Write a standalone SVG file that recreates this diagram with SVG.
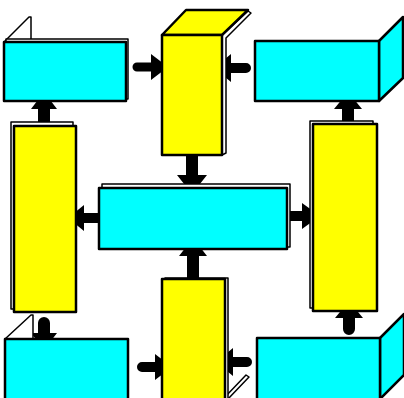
<svg xmlns="http://www.w3.org/2000/svg" width="404" height="398" viewBox="0 0 404 398">
  <style>
    .cy { fill: #00ffff; stroke: #000; stroke-width: 2.5; stroke-linejoin: round; }
    .ye { fill: #ffff00; stroke: #000; stroke-width: 2.5; stroke-linejoin: round; }
    .bk { fill: #ffffff; stroke: #000; stroke-width: 1.5; stroke-linejoin: round; }
    .ar { fill: #000; stroke: none; }
  </style>
  <rect width="404" height="398" fill="#ffffff"/>

  <!-- connectors: fat block arrows, heads tucked under the target box -->
  <g id="connectors">
    <path class="ar" d="M137,62.5 H151 V54 L168,67 L151,80 V71.5 H137 A4.5,4.5 0 0 1 137,62.5 Z"/>
    <path class="ar" d="M246,63 H231 V54 L214,68 L231,82 V73 H246 A5,5 0 0 0 246,63 Z"/>
    <path class="ar" d="M186,150 H198 V175 H207 L192,194 L177,175 H186 Z"/>
    <path class="ar" d="M104,213 H84 V205 L68,218 L84,231 V223 H104 Z"/>
    <path class="ar" d="M283,211 H302 V203 L320,216 L302,229 V221 H283 Z"/>
    <path class="ar" d="M187,284 V256 H179 L193,238 L207,256 H199 V284 Z"/>
    <path class="ar" d="M38,130 V109 H31 L44,92 L57,109 H50 V130 Z"/>
    <path class="ar" d="M38,323 A6,6 0 0 1 50,323 V333 H57 L44,350 L31,333 H38 Z"/>
    <path class="ar" d="M342,128 V109 H334 L348,92 L362,109 H354 V128 Z"/>
    <path class="ar" d="M343,318 H335 L349,301 L363,318 H355 V329 A6,6 0 0 1 343,329 Z"/>
    <path class="ar" d="M142,362 H155 V354 L172,367 L155,380 V372 H142 A5,5 0 0 1 142,362 Z"/>
    <path class="ar" d="M247,357 H233 V348 L216,362 L233,376 V367 H247 A5,5 0 0 0 247,357 Z"/>
  </g>

  <!-- top-left cyan block with its back flap -->
  <g id="box-top-left">
    <polygon class="bk" points="5,41 29,17 31,17 31,41"/>
    <rect class="bk" x="6" y="39" width="122" height="60"/>
    <rect class="cy" x="4" y="42" width="122" height="59"/>
  </g>

  <!-- top yellow block, seen from above -->
  <g id="box-top-center">
    <polygon class="bk" points="222,35 248,11 251,13 226,38 226,153 222,155"/>
    <polygon class="ye" points="162,35 186,10 248,10 222,35"/>
    <rect class="ye" x="162" y="35" width="60" height="120"/>
  </g>

  <!-- top-right cyan block with its side face -->
  <g id="box-top-right">
    <polygon class="cy" points="379,41 403,17 403,78 379,101"/>
    <rect class="cy" x="255" y="41" width="124" height="60"/>
  </g>

  <!-- left yellow column -->
  <g id="box-left">
    <rect class="bk" x="11" y="122" width="62" height="187"/>
    <rect class="ye" x="14" y="126" width="62" height="186"/>
  </g>

  <!-- central cyan block -->
  <g id="box-center">
    <rect class="bk" x="102" y="184" width="188" height="63"/>
    <rect class="cy" x="99" y="188" width="188" height="61"/>
  </g>

  <!-- right yellow column -->
  <g id="box-right">
    <rect class="bk" x="310" y="121" width="63" height="187"/>
    <rect class="ye" x="313" y="124" width="64" height="187"/>
  </g>

  <!-- bottom-left cyan block with its back flap -->
  <g id="box-bottom-left">
    <polygon class="bk" points="5,339 31,315 33,315 33,339"/>
    <rect class="cy" x="5" y="339" width="123" height="70"/>
  </g>

  <!-- bottom yellow block -->
  <g id="box-bottom-center">
    <polygon class="bk" points="225,397 246,375 249,377 228,399"/>
    <rect class="bk" x="165" y="278" width="63" height="130"/>
    <rect class="ye" x="162" y="279" width="63" height="130"/>
  </g>

  <!-- bottom-right cyan block with its side face -->
  <g id="box-bottom-right">
    <polygon class="cy" points="380,338 404,314 404,375 380,399"/>
    <rect class="cy" x="257" y="338" width="123" height="70"/>
  </g>
</svg>
